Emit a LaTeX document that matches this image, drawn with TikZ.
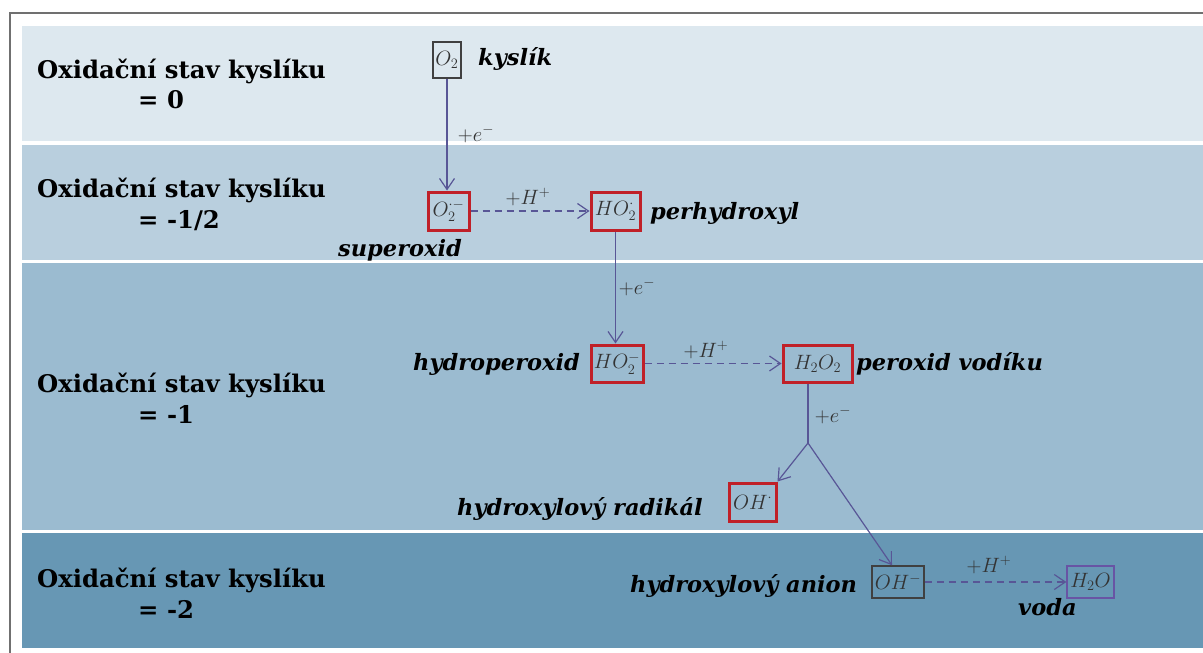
\documentclass[tikz,border=0pt]{standalone}
\usepackage{fontspec}
\setmainfont{DejaVu Serif}
\usetikzlibrary{arrows.meta}
\definecolor{bandA}{RGB}{221,232,239}
\definecolor{bandB}{RGB}{185,207,222}
\definecolor{bandC}{RGB}{155,187,208}
\definecolor{bandD}{RGB}{103,151,180}
\definecolor{arrowc}{RGB}{88,86,150}
\definecolor{redb}{RGB}{192,32,40}
\definecolor{grayb}{RGB}{64,64,64}
\definecolor{purpb}{RGB}{104,84,164}
\definecolor{framec}{RGB}{112,112,112}
\begin{document}
\begin{tikzpicture}[x=1pt,y=-1pt,
 stateT/.style={anchor=base west, font=\fontsize{24.3}{28}\selectfont\bfseries, inner sep=0},
 namelab/.style={anchor=base west, font=\fontsize{22.5}{26}\selectfont\bfseries\itshape, inner sep=0},
 chem/.style={draw, inner sep=0, font=\fontsize{21}{24}\selectfont, text=black!80},
 redbox/.style={chem, draw=redb, line width=3pt},
 graybox/.style={chem, draw=grayb, line width=1.5pt},
 purpbox/.style={chem, draw=purpb, line width=1.3pt},
 conn/.style={draw=arrowc, line width=1.2pt, -{Straight Barb[length=11pt,width=15pt]}},
 dconn/.style={conn, dash pattern=on 7pt off 5pt},
 rlab/.style={font=\fontsize{22}{25}\selectfont, inner sep=0, text=black!80},
]
\useasboundingbox (0,0) rectangle (1203,653);
\fill[white] (0,0) rectangle (1203,653);
% bands
\fill[bandA] (22,26) rectangle (1203,141);
\fill[bandB] (22,145) rectangle (1203,260);
\fill[bandC] (22,263) rectangle (1203,530);
\fill[bandD] (22,533) rectangle (1203,648);
% frame
\draw[framec, line width=2pt] (10,653) -- (10,13) -- (1203,13);
% state labels
\node[stateT] (s1a) at (37,78) {Oxidační stav kyslíku};
\node[stateT] (s1b) at (138,108) {= 0};
\node[stateT] (s2a) at (37,197) {Oxidační stav kyslíku};
\node[stateT] (s2b) at (138,228) {= -1/2};
\node[stateT] (s3a) at (37,392) {Oxidační stav kyslíku};
\node[stateT] (s3b) at (138,423) {= -1};
\node[stateT] (s4a) at (37,587) {Oxidační stav kyslíku};
\node[stateT] (s4b) at (138,618) {= -2};
% species boxes
\node[graybox, minimum width=28pt, minimum height=36pt] (o2) at (447,60) {$O_2$};
\node[redbox, minimum width=41pt, minimum height=38pt] (o2m) at (448.5,211) {$O_2^{\cdot -}$};
\node[redbox, minimum width=49pt, minimum height=38pt] (ho2) at (615.5,211) {$HO_2^{\cdot}$};
\node[redbox, minimum width=52pt, minimum height=37pt] (ho2m) at (617,363.5) {$HO_2^-$};
\node[redbox, minimum width=69pt, minimum height=37pt] (h2o2) at (817.5,363.5) {$H_2O_2$};
\node[redbox, minimum width=47pt, minimum height=38pt] (oh) at (752.5,502) {$OH^{\cdot}$};
\node[graybox, minimum width=52pt, minimum height=32pt] (ohm) at (898,582) {$OH^-$};
\node[purpbox, minimum width=47pt, minimum height=32pt] (h2o) at (1090.5,582) {$H_2O$};
% names
\node[namelab] (n1) at (478,65) {kyslík};
\node[namelab] (n2) at (338,256) {superoxid};
\node[namelab] (n3) at (650,219) {perhydroxyl};
\node[namelab] (n4) at (413,370) {hydroperoxid};
\node[namelab] (n5) at (856,370) {peroxid vodíku};
\node[namelab] (n6) at (457,515) {hydroxylový radikál};
\node[namelab] (n7) at (630,592) {hydroxylový anion};
\node[namelab] (n8) at (1018,615) {voda};
% connectors
\draw[conn] (o2.south) -- (o2.south |- o2m.north);
\draw[dconn] (o2m.east) -- (ho2.west);
\draw[conn] (ho2.south) -- (ho2.south |- ho2m.north);
\draw[dconn] (ho2m.east) -- (h2o2.west);
\coordinate (j) at (808,443);
\draw[draw=arrowc, line width=1.2pt] (j |- h2o2.south) -- (j);
\draw[conn] (j) -- (oh.north east);
\draw[conn] (j) -- ([xshift=-6pt]ohm.north);
\draw[dconn] (ohm.east) -- (h2o.west);
% reaction labels
\node[rlab] (r1) at (476,134) {$+e^-$};
\node[rlab] (r2) at (528,197) {$+H^+$};
\node[rlab] (r3) at (637,287) {$+e^-$};
\node[rlab] (r4) at (706,350) {$+H^+$};
\node[rlab] (r5) at (833,415) {$+e^-$};
\node[rlab] (r6) at (989,565) {$+H^+$};
\end{tikzpicture}
\end{document}
